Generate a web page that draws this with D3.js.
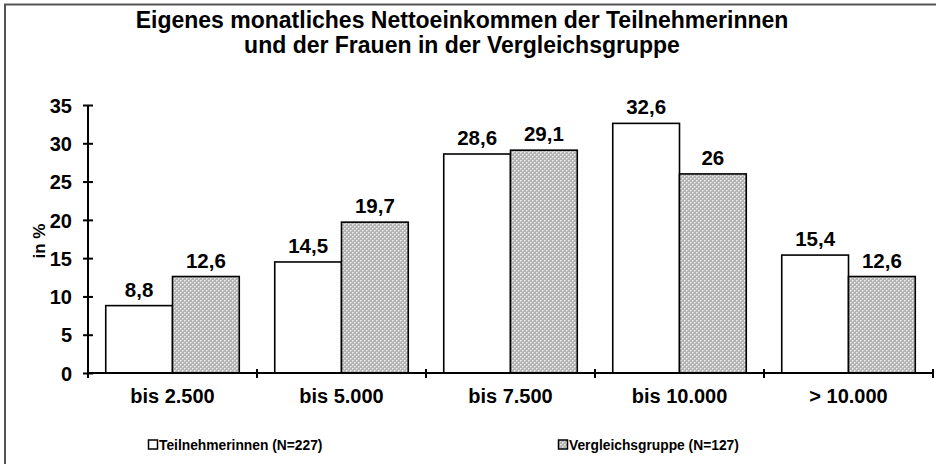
<!DOCTYPE html>
<html><head><meta charset="utf-8">
<script src="https://cdn.jsdelivr.net/npm/d3@7"></script>
<style>body{margin:0;background:#fff}svg{display:block;font-family:"Liberation Sans",Arial,sans-serif;font-weight:bold}</style>
</head><body>
<svg id="c" width="936" height="464"></svg>
<script>
const categories = ["bis 2.500","bis 5.000","bis 7.500","bis 10.000","> 10.000"];
const seriesNames = ["Teilnehmerinnen (N=227)","Vergleichsgruppe (N=127)"];
const teilnehmerinnen = [8.8,14.5,28.6,32.6,15.4];
const vergleichsgruppe = [12.6,19.7,29.1,26,12.6];
const yTicks = [0,5,10,15,20,25,30,35];
const titleLines = ["Eigenes monatliches Nettoeinkommen der Teilnehmerinnen","und der Frauen in der Vergleichsgruppe"];

const svg = d3.select("#c");
const defs = svg.append("defs");
const pat = defs.append("pattern").attr("id","dots").attr("width",4).attr("height",4).attr("patternUnits","userSpaceOnUse");
pat.append("rect").attr("width",4).attr("height",4).attr("fill","#b4b4b4");
[[0,0,"#ececec"],[2,2,"#ececec"],[1,0,"#d4d4d4"],[3,2,"#d4d4d4"],[0,1,"#d4d4d4"],[2,3,"#d4d4d4"]].forEach(p=>
  pat.append("rect").attr("x",p[0]).attr("y",p[1]).attr("width",1).attr("height",1).attr("fill",p[2]));

// frame
svg.append("path").attr("d","M5,464 V4.5 H936").attr("fill","none").attr("stroke","#555").attr("stroke-width",2);

const x0 = 88, x1 = 933, yb = 373, yt = 105;
const x = d3.scaleBand().domain(categories).range([x0,x1]).paddingInner(0.21).paddingOuter(0.105);
const xs = d3.scaleBand().domain([0,1]).range([0,x.bandwidth()]);
const y = d3.scaleLinear().domain([0,35]).range([yb,yt]);

// title
svg.append("g").selectAll("text").data(titleLines).join("text")
  .attr("x",462).attr("y",(d,i)=>28+i*25).attr("text-anchor","middle")
  .attr("font-size",23).text(d=>d);

const data = categories.map((c,i)=>({c, v:[teilnehmerinnen[i],vergleichsgruppe[i]]}));
const g = svg.append("g");
data.forEach(d=>{
  d.v.forEach((v,j)=>{
    g.append("rect").attr("x",x(d.c)+xs(j)).attr("y",y(v)).attr("width",xs.bandwidth()).attr("height",yb-y(v))
      .attr("fill", j===0?"#fff":"url(#dots)").attr("stroke","#000").attr("stroke-width",1.6);
    g.append("text").attr("x",x(d.c)+xs(j)+xs.bandwidth()/2).attr("y",y(v)-9).attr("text-anchor","middle")
      .attr("font-size",20.5).text(String(v).replace(".",","));
  });
});

// y axis
const ya = svg.append("g").attr("transform",`translate(${x0},0)`)
  .call(d3.axisLeft(y).tickValues(yTicks).tickSize(5).tickSizeOuter(0).tickPadding(11));
ya.select(".domain").attr("stroke","#000").attr("stroke-width",2).attr("d",`M0,${yb}V${yt}`);
ya.selectAll(".tick line").attr("x1",-5).attr("x2",5).attr("stroke-width",2);
ya.selectAll(".tick text").attr("font-size",20).attr("font-family","'Liberation Sans',Arial,sans-serif").attr("font-weight","bold").attr("fill","#000").attr("dy","0.36em");

// x axis
const xa = svg.append("g").attr("transform",`translate(0,${yb})`);
xa.append("line").attr("x1",x0).attr("x2",x1).attr("stroke","#000").attr("stroke-width",2);
const bounds = categories.map(c=>x(c)-x.step()*x.paddingInner()/2).concat([x1]);
xa.selectAll(".tk").data(bounds).join("line").attr("class","tk").attr("x1",d=>d).attr("x2",d=>d).attr("y1",-4).attr("y2",5).attr("stroke","#000").attr("stroke-width",2);
xa.selectAll(".lbl").data(categories).join("text").attr("class","lbl")
  .attr("x",d=>x(d)+x.bandwidth()/2).attr("y",30).attr("text-anchor","middle").attr("font-size",20).text(d=>d);

// y label
svg.append("text").attr("transform","translate(45,241) rotate(-90)").attr("text-anchor","middle").attr("font-size",17).text("in %");

// legend
const leg = [{x:148, fill:"#fff"},{x:558, fill:"url(#dots)"}];
leg.forEach((l,i)=>{
  svg.append("rect").attr("x",l.x+0.5).attr("y",440).attr("width",9).attr("height",9).attr("fill",l.fill).attr("stroke","#000").attr("stroke-width",1.5);
  svg.append("text").attr("x",l.x+11).attr("y",450).attr("font-size",13.8).text(seriesNames[i]);
});
</script>
</body></html>
